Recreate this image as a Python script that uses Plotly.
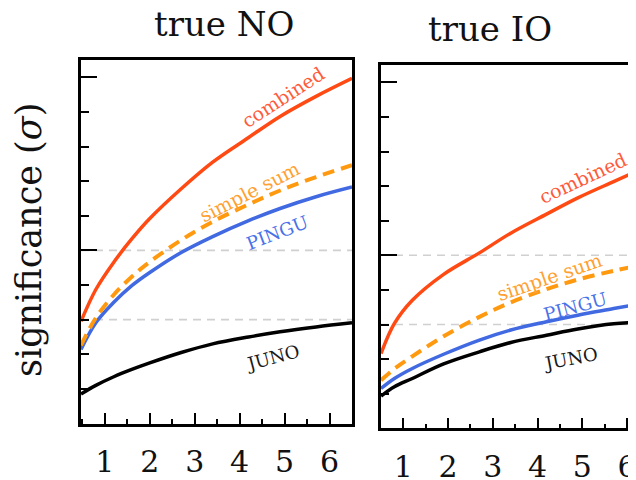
import plotly.graph_objects as go

# ---------------- data ----------------
x_no = [0.47, 0.8, 1.2, 1.6, 2.0, 2.7, 3.4, 4.2, 4.9, 5.7, 6.5]
combined_no = [2.95, 3.87, 4.66, 5.33, 5.92, 6.78, 7.55, 8.26, 8.87, 9.45, 9.97]
simple_no = [2.26, 3.05, 3.72, 4.24, 4.67, 5.30, 5.83, 6.33, 6.73, 7.12, 7.46]
pingu_no = [2.14, 2.91, 3.50, 3.98, 4.36, 4.94, 5.40, 5.86, 6.21, 6.55, 6.83]
juno_no = [0.85, 1.10, 1.35, 1.56, 1.75, 2.05, 2.30, 2.50, 2.65, 2.79, 2.91]

x_io = [0.5, 0.8, 1.2, 1.9, 2.7, 3.4, 4.2, 4.9, 5.7, 6.2]
combined_io = [2.16, 3.03, 3.70, 4.45, 5.07, 5.64, 6.19, 6.66, 7.13, 7.42]
simple_io = [1.39, 1.72, 2.08, 2.66, 3.22, 3.64, 4.02, 4.30, 4.55, 4.69]
pingu_io = [1.15, 1.44, 1.73, 2.14, 2.55, 2.84, 3.08, 3.27, 3.46, 3.58]
juno_io = [0.93, 1.20, 1.44, 1.86, 2.21, 2.48, 2.69, 2.87, 3.02, 3.06]

x_ticks = [1, 2, 3, 4, 5, 6]
x_tick_labels = ["1", "2", "3", "4", "5", "6"]
grid_levels = [3, 5]
panel_titles = ["true NO", "true IO"]
y_title = "significance (<i>σ</i>)"

series_names = ["combined", "simple sum", "PINGU", "JUNO"]

# ---------------- styling ----------------
FONT = "DejaVu Serif"
C_COMB = "#FF4A14"
C_SUM = "#FF9A10"
C_PINGU = "#4169E1"
C_JUNO = "#000000"

# the page body has an 8px margin; size the figure so it ends at the window edge
OFF = 8
W, H = 636 - OFF, 480 - OFF


def px_x(p):
    return (p - OFF) / W


def px_y(p):
    return 1 - (p - OFF) / H


fig = go.Figure()


def add_panel(xv, comb, ssum, ping, juno, xa, ya):
    fig.add_trace(go.Scatter(x=xv, y=juno, mode="lines", xaxis=xa, yaxis=ya,
                             line=dict(color=C_JUNO, width=3.5, shape="spline"), name="JUNO"))
    fig.add_trace(go.Scatter(x=xv, y=ping, mode="lines", xaxis=xa, yaxis=ya,
                             line=dict(color=C_PINGU, width=3.5, shape="spline"), name="PINGU"))
    fig.add_trace(go.Scatter(x=xv, y=ssum, mode="lines", xaxis=xa, yaxis=ya,
                             line=dict(color=C_SUM, width=4, dash="12px,7px", shape="spline"),
                             name="simple sum"))
    fig.add_trace(go.Scatter(x=xv, y=comb, mode="lines", xaxis=xa, yaxis=ya,
                             line=dict(color=C_COMB, width=3.5, shape="spline"), name="combined"))


add_panel(x_no, combined_no, simple_no, pingu_no, juno_no, "x", "y")
add_panel(x_io, combined_io, simple_io, pingu_io, juno_io, "x2", "y2")

# dashed reference levels
for xr, yr in (("x domain", "y"), ("x2 domain", "y2")):
    for g in grid_levels:
        fig.add_shape(type="line", xref=xr, yref=yr, x0=0, x1=1, y0=g, y1=g,
                      line=dict(color="#d0d0d0", width=1.6, dash="8px,6px"), layer="below")

xaxis_common = dict(
    tickvals=x_ticks, ticktext=x_tick_labels, ticks="inside", ticklen=11, tickwidth=2,
    tickcolor="black", showline=True, linecolor="black", linewidth=2.5,
    showgrid=False, zeroline=False, ticklabelstandoff=10, automargin=False,
    ticklabeloverflow="allow",
    tickfont=dict(family=FONT, size=30, color="#111111"),
    minor=dict(ticks="inside", ticklen=5, tickwidth=2, tickcolor="black", dtick=0.5, tick0=0.5,
               showgrid=False),
)
yaxis_common = dict(
    range=[0, 10.5], dtick=5, tick0=0, ticks="inside", ticklen=16, tickwidth=2,
    tickcolor="black", showline=True, linecolor="black", linewidth=2.5,
    showgrid=False, zeroline=False, showticklabels=False, automargin=False,
    minor=dict(ticks="inside", ticklen=8, tickwidth=2, tickcolor="black", dtick=1, showgrid=False),
)

fig.update_layout(
    width=W, height=H,
    margin=dict(l=0, r=0, t=0, b=0, pad=0, autoexpand=False),
    paper_bgcolor="white", plot_bgcolor="white",
    showlegend=False,
    xaxis=dict(domain=[px_x(81), px_x(352)], range=[0.47, 6.5], mirror=True, anchor="y", **xaxis_common),
    yaxis=dict(domain=[px_y(423.5), px_y(60)], mirror=True, anchor="x", **yaxis_common),
    xaxis2=dict(domain=[px_x(381), 1.0], range=[0.5, 6.2], mirror=True, anchor="y2", **xaxis_common),
    yaxis2=dict(domain=[px_y(428.3), px_y(65)], mirror=False, anchor="x2", **yaxis_common),
)

ann = []
# panel titles
ann.append(dict(text=panel_titles[0], xref="paper", yref="paper", x=px_x(224), y=px_y(24),
                xanchor="center", yanchor="middle", showarrow=False,
                font=dict(family=FONT, size=34, color="#111111")))
ann.append(dict(text=panel_titles[1], xref="paper", yref="paper", x=px_x(490), y=px_y(29),
                xanchor="center", yanchor="middle", showarrow=False,
                font=dict(family=FONT, size=34, color="#111111")))
# y-axis title
ann.append(dict(text=y_title, xref="paper", yref="paper", x=px_x(29), y=px_y(240), textangle=-90,
                xanchor="center", yanchor="middle", showarrow=False,
                font=dict(family=FONT, size=35, color="#111111")))

label_cols = ["#FF5A3A", "#FFA030", "#4A72E8", "#1a1a1a"]
label_sizes = [19, 19, 18, 18]
# curve labels: (x, y, angle) per panel
lab_no = [(4.97, 9.43, -33), (4.21, 6.68, -27), (4.84, 5.51, -21), (4.73, 1.92, -15)]
lab_io = [(5.02, 7.22, -25), (4.26, 4.36, -19), (4.84, 3.52, -15), (4.73, 2.03, -11)]
for (xr, yr, labs) in (("x", "y", lab_no), ("x2", "y2", lab_io)):
    for name, (lx, ly, ang), col, sz in zip(series_names, labs, label_cols, label_sizes):
        ann.append(dict(text=name, xref=xr, yref=yr, x=lx, y=ly, textangle=ang,
                        xanchor="center", yanchor="middle", showarrow=False,
                        font=dict(family=FONT, size=sz, color=col)))

fig.update_layout(annotations=ann)
fig.write_html("out.html")
